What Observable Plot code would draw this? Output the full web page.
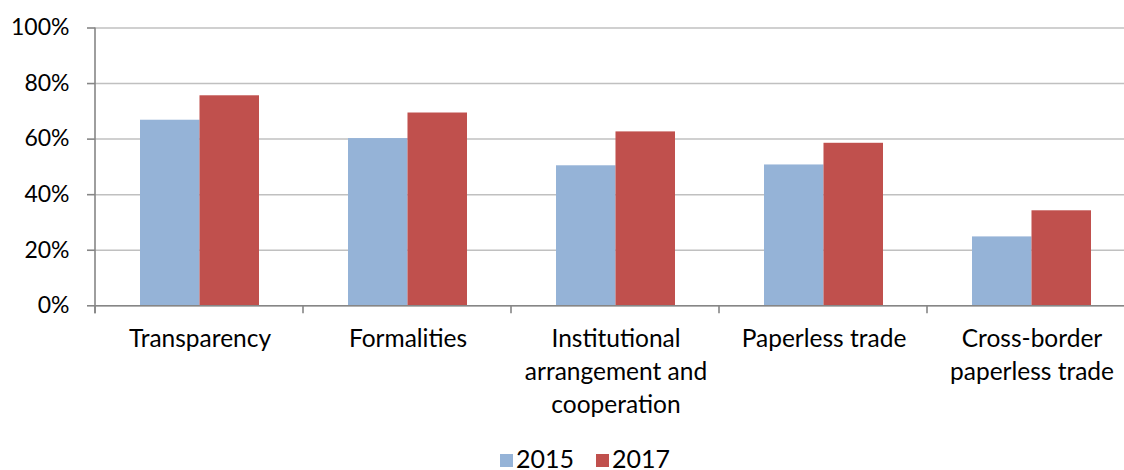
<!DOCTYPE html>
<html>
<head>
<meta charset="utf-8">
<script src="https://cdn.jsdelivr.net/npm/d3@7"></script>
<script src="https://cdn.jsdelivr.net/npm/@observablehq/plot@0.6"></script>
<style>
  html, body { margin: 0; padding: 0; background: #fff; overflow: hidden; }
  #chart { width: 1124px; }
  .legend { display: flex; justify-content: center; align-items: center; font-family: Lato, sans-serif; font-size: 25px; line-height: 25px; color: #000; padding-top: 6px; padding-left: 46px; }
  .legend .item { display: flex; align-items: center; margin: 0 11px; }
  .legend .sw { width: 13px; height: 13px; margin-right: 3px; margin-top: 4px; }
</style>
</head>
<body>
<div id="chart"></div>
<script>
const categories = ["Transparency", "Formalities", "Institutional\narrangement and\ncooperation", "Paperless trade", "Cross-border\npaperless trade"];
const years = ["2015", "2017"];
const values2015 = [0.668, 0.602, 0.504, 0.507, 0.248];
const values2017 = [0.756, 0.694, 0.626, 0.585, 0.342];
const yTicks = [0, 0.2, 0.4, 0.6, 0.8, 1.0];
const colors = ["#95b3d7", "#c0504d"];

const rows2015 = categories.map((c, i) => ({category: c, year: years[0], value: values2015[i]}));
const rows2017 = categories.map((c, i) => ({category: c, year: years[1], value: values2017[i]}));

const xRange = [95, 1135];
const step = (xRange[1] - xRange[0]) / categories.length;
const paddingInner = 0.428;
const halfBand = step * (1 - paddingInner) / 2;
const axisColor = "#868686";

function axisDecor(index, scales, values, dimensions) {
  const y0 = scales.y(0), y1 = scales.y(1);
  const g = d3.create("svg:g").attr("stroke", axisColor).attr("stroke-width", 1.6);
  g.append("line").attr("x1", xRange[0]).attr("x2", xRange[0]).attr("y1", y1).attr("y2", y0 + 8);
  for (let i = 0; i <= categories.length; i++) {
    const x = xRange[0] + i * step;
    g.append("line").attr("x1", x).attr("x2", x).attr("y1", y0).attr("y2", y0 + 8);
  }
  return g.node();
}

const plot = Plot.plot({
  width: 1124,
  height: 440,
  marginLeft: 95,
  marginRight: 0,
  marginTop: 27.5,
  marginBottom: 134.7,
  style: {fontFamily: "Lato, sans-serif", color: "#000", background: "#fff"},
  x: {domain: categories, range: xRange, paddingInner: paddingInner, paddingOuter: paddingInner / 2, label: null},
  y: {domain: [0, 1], label: null},
  marks: [
    Plot.gridY(yTicks, {stroke: "#c0c0c0", strokeOpacity: 1, strokeWidth: 1.5}),
    Plot.barY(rows2015, {x: "category", y: "value", fill: colors[0], insetRight: halfBand}),
    Plot.barY(rows2017, {x: "category", y: "value", fill: colors[1], insetLeft: halfBand}),
    Plot.ruleY([0], {stroke: axisColor, strokeWidth: 1.6}),
    axisDecor,
    Plot.axisY(yTicks, {tickFormat: d3.format(".0%"), tickSize: 8, tickPadding: 18, fontSize: 23, stroke: axisColor, strokeWidth: 1.6, label: null}),
    Plot.axisX({tickSize: 0, tickPadding: 18, fontSize: 24.5, lineHeight: 1.34, label: null})
  ]
});
document.getElementById("chart").appendChild(plot);

const legend = document.createElement("div");
legend.className = "legend";
years.forEach((yr, i) => {
  const item = document.createElement("div");
  item.className = "item";
  const sw = document.createElement("span");
  sw.className = "sw";
  sw.style.background = colors[i];
  const t = document.createElement("span");
  t.textContent = yr;
  item.appendChild(sw);
  item.appendChild(t);
  legend.appendChild(item);
});
document.getElementById("chart").appendChild(legend);
</script>
</body>
</html>
